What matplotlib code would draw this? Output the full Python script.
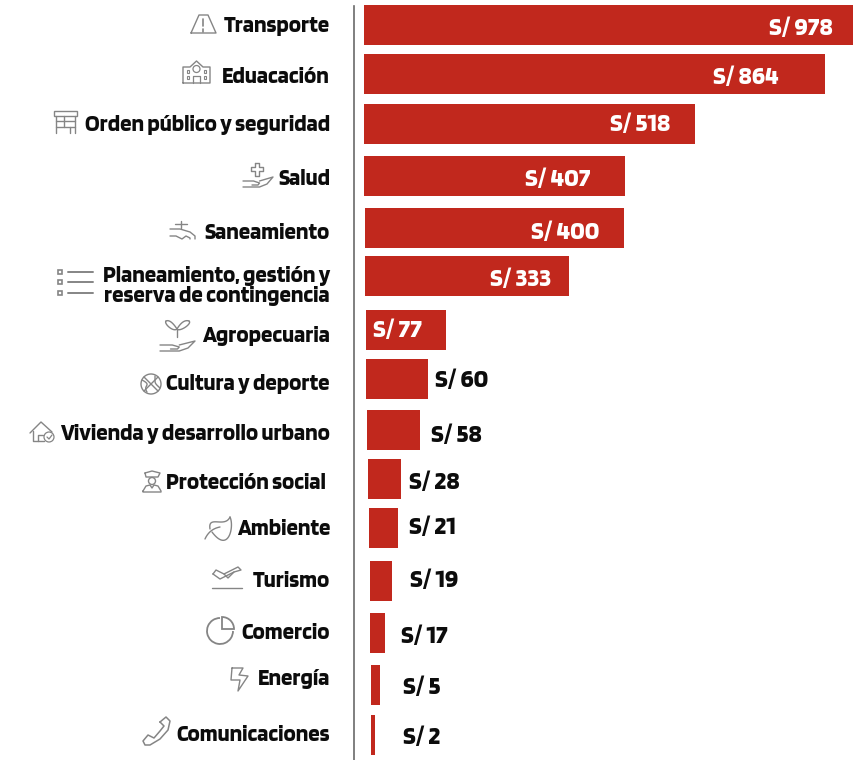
import matplotlib
matplotlib.use('Agg')
import matplotlib.pyplot as plt
from matplotlib.patches import Circle, Rectangle, Wedge, Arc
import numpy as np

categories = ['Transporte', 'Eduacación', 'Orden público y seguridad', 'Salud', 'Saneamiento',
              'Planeamiento, gestión y\nreserva de contingencia', 'Agropecuaria', 'Cultura y deporte',
              'Vivienda y desarrollo urbano', 'Protección social', 'Ambiente', 'Turismo',
              'Comercio', 'Energía', 'Comunicaciones']
amounts = [978, 864, 518, 407, 400, 333, 77, 60, 58, 28, 21, 19, 17, 5, 2]
# drawn lengths, the bars are not to scale with the amounts
bar_lengths = [490, 461, 331, 261, 259, 204, 80, 62, 53, 33, 29, 22, 15, 9, 4]

# layout, in pixels of the 854x760 picture
bar_left = [364, 364, 364, 364, 365, 365, 366, 366, 367, 368, 369, 370, 370, 371, 371]
bar_top = [5, 54, 104, 156, 208, 256, 310, 359, 410, 459, 508, 561, 613, 665, 715]
label_base = [32, 83, 131, 185, 239, 302, 342, 390, 440, 489, 535, 587, 639, 685, 741]
label_right = [330, 330, 330, 330, 330, 330, 330, 330, 330, 326, 330, 330, 330, 330, 330]
value_x = [769, 713, 610, 525, 531, 490, 373, 435, 431, 409, 409, 410, 401, 403, 403]
value_base = [35, 84, 131, 186, 239, 286, 337, 387, 442, 489, 534, 587, 643, 694, 744]
inside = [True, True, True, True, True, True, True] + [False] * 8

RED = '#c1281d'
GRAY = '#858585'
FONT = ['Blinker', 'Roboto', 'DejaVu Sans']


def line(ax, xs, ys, lw=1.0, **kw):
    ax.plot(xs, ys, color=GRAY, lw=lw, solid_capstyle='round', **kw)


def box(ax, x, y, w, h, lw=1.0):
    ax.add_patch(Rectangle((x, y), w, h, fill=False, ec=GRAY, lw=lw))


def ring(ax, x, y, r, lw=1.0):
    ax.add_patch(Circle((x, y), r, fill=False, ec=GRAY, lw=lw))


def curve(ax, xs, ys, lw=1.0):
    # smooth line through a few hand points of an icon
    t = np.linspace(0, 1, len(xs))
    tt = np.linspace(0, 1, 40)
    line(ax, np.polyval(np.polyfit(t, xs, min(3, len(xs) - 1)), tt),
         np.polyval(np.polyfit(t, ys, min(3, len(xs) - 1)), tt), lw=lw)


def hand(ax, x, y, w):
    # open palm, x/y is the lower left corner
    line(ax, [x, x + w * .35, x + w * .55, x + w * .5, x + w * .3], [y - 6, y - 6, y - 4, y - 2, y - 2])
    line(ax, [x + w * .55, x + w, x + w * .8, x + w * .55, x], [y - 6, y - 10, y - 3, y, y])


def draw_icons(ax):
    # Transporte
    line(ax, [191, 199, 208, 216, 191], [33, 15, 15, 33, 33])
    line(ax, [203.5, 203.5], [19, 26], lw=1.2)
    line(ax, [203.5, 203.5], [29, 32], lw=1.2)
    # Eduacacion
    line(ax, [183, 183, 190, 196.5, 203, 210, 210, 183], [83, 67, 67, 61, 67, 67, 83, 83])
    ring(ax, 196.5, 69, 3.5, lw=.9)
    for bx in (187, 204):
        box(ax, bx, 70, 2.5, 3, lw=.8)
        box(ax, bx, 76, 2.5, 3, lw=.8)
    line(ax, [193, 193, 200, 200], [83, 76, 76, 83], lw=.9)
    # Orden publico
    box(ax, 54, 111, 23, 5)
    line(ax, [56, 56], [116, 133])
    line(ax, [75, 75], [116, 133])
    line(ax, [56, 75], [121, 121])
    line(ax, [56, 75], [127, 127])
    line(ax, [64, 64], [116, 127])
    line(ax, [70, 70], [127, 133])
    # Salud
    line(ax, [255, 259, 259, 263, 263, 259, 259, 255, 255, 251, 251, 255, 255],
         [163, 163, 167, 167, 171, 171, 176, 176, 171, 171, 167, 167, 163])
    hand(ax, 243, 187, 30)
    # Saneamiento
    line(ax, [181, 181], [221, 228])
    line(ax, [175, 187], [224, 224])
    line(ax, [170, 180, 190, 195, 195], [229, 229, 232, 236, 239])
    line(ax, [170, 176, 182, 186, 190, 190], [236, 236, 239, 236, 238, 239])
    # Planeamiento
    for ly in (272, 282, 293):
        box(ax, 58.5, ly - 2, 4, 4, lw=1.2)
        line(ax, [68, 93], [ly, ly], lw=1.4)
    # Agropecuaria
    line(ax, [177, 177], [329, 337])
    curve(ax, [177, 172, 167, 166], [329, 329, 325, 321])
    curve(ax, [166, 171, 177], [321, 322, 329])
    curve(ax, [177, 182, 188, 189], [329, 329, 325, 321])
    curve(ax, [189, 183, 177], [321, 322, 329])
    hand(ax, 160, 351, 35)
    # Cultura y deporte
    ring(ax, 151, 384, 10)
    line(ax, [144, 158], [377, 391])
    line(ax, [144, 158], [391, 377])
    curve(ax, [142, 147, 146, 147], [380, 384, 387, 392])
    curve(ax, [155, 155, 156, 160], [376, 381, 384, 388])
    # Vivienda
    line(ax, [30, 41, 52], [433, 422, 432])
    line(ax, [33, 33, 44], [431, 441, 441])
    line(ax, [38, 38, 43], [441, 435, 435])
    ring(ax, 49, 437, 5, lw=.9)
    line(ax, [47, 49, 52], [437, 439, 435], lw=.9)
    # Proteccion social
    line(ax, [145, 152, 160, 158, 146, 145], [473, 471, 473, 477, 477, 473])
    ring(ax, 152, 481, 3.5)
    line(ax, [143, 146, 150, 152, 154, 158, 161, 161, 143, 143], [491, 486, 485, 488, 485, 486, 491, 492, 492, 491])
    # Ambiente
    curve(ax, [210, 213, 222, 230], [529, 522, 522, 517])
    curve(ax, [230, 231, 225, 212], [517, 530, 540, 532])
    curve(ax, [205, 211, 220], [539, 531, 527])
    # Turismo
    line(ax, [213, 220, 234, 241, 238, 224, 216, 213], [574, 579, 572, 570, 567, 574, 570, 574])
    line(ax, [224, 228, 234], [574, 578, 572])
    line(ax, [212, 242], [588, 588])
    # Comercio
    ax.add_patch(Arc((220, 631), 26, 26, theta1=0, theta2=270, ec=GRAY, lw=1.3))
    ax.add_patch(Wedge((222, 629), 12, 270, 360, fill=False, ec=GRAY, lw=1.3))
    # Energia
    line(ax, [232, 243, 239, 248, 238, 240, 231, 232], [668, 668, 675, 676, 691, 680, 680, 668])
    # Comunicaciones
    line(ax, [160, 166, 170, 168, 160, 150, 145, 143, 148, 154, 160, 164, 160],
         [722, 717, 721, 730, 739, 745, 745, 741, 735, 738, 731, 726, 722], lw=1.1)


def main():
    fig = plt.figure(figsize=(8.54, 7.60), dpi=100)
    ax = fig.add_axes([0, 0, 1, 1])
    ax.set_xlim(0, 854)
    ax.set_ylim(760, 0)
    ax.axis('off')

    ax.barh(bar_top, bar_lengths, height=40, left=bar_left, align='edge', color=RED, lw=0)
    ax.plot([354, 354], [6, 760], color='#6a6a6a', lw=1.2)

    for i, name in enumerate(categories):
        ax.text(label_right[i], label_base[i], name, ha='right', va='baseline', family=FONT,
                weight='bold', fontsize=16.3, color='#0c0c0c', linespacing=1.0)
        ax.text(value_x[i], value_base[i], f'S/ {amounts[i]}', ha='left', va='baseline', family=FONT,
                weight='bold', fontsize=18.7, color='white' if inside[i] else '#0c0c0c')

    draw_icons(ax)
    fig.savefig('out.png', dpi=100, facecolor='white')


if __name__ == '__main__':
    main()
